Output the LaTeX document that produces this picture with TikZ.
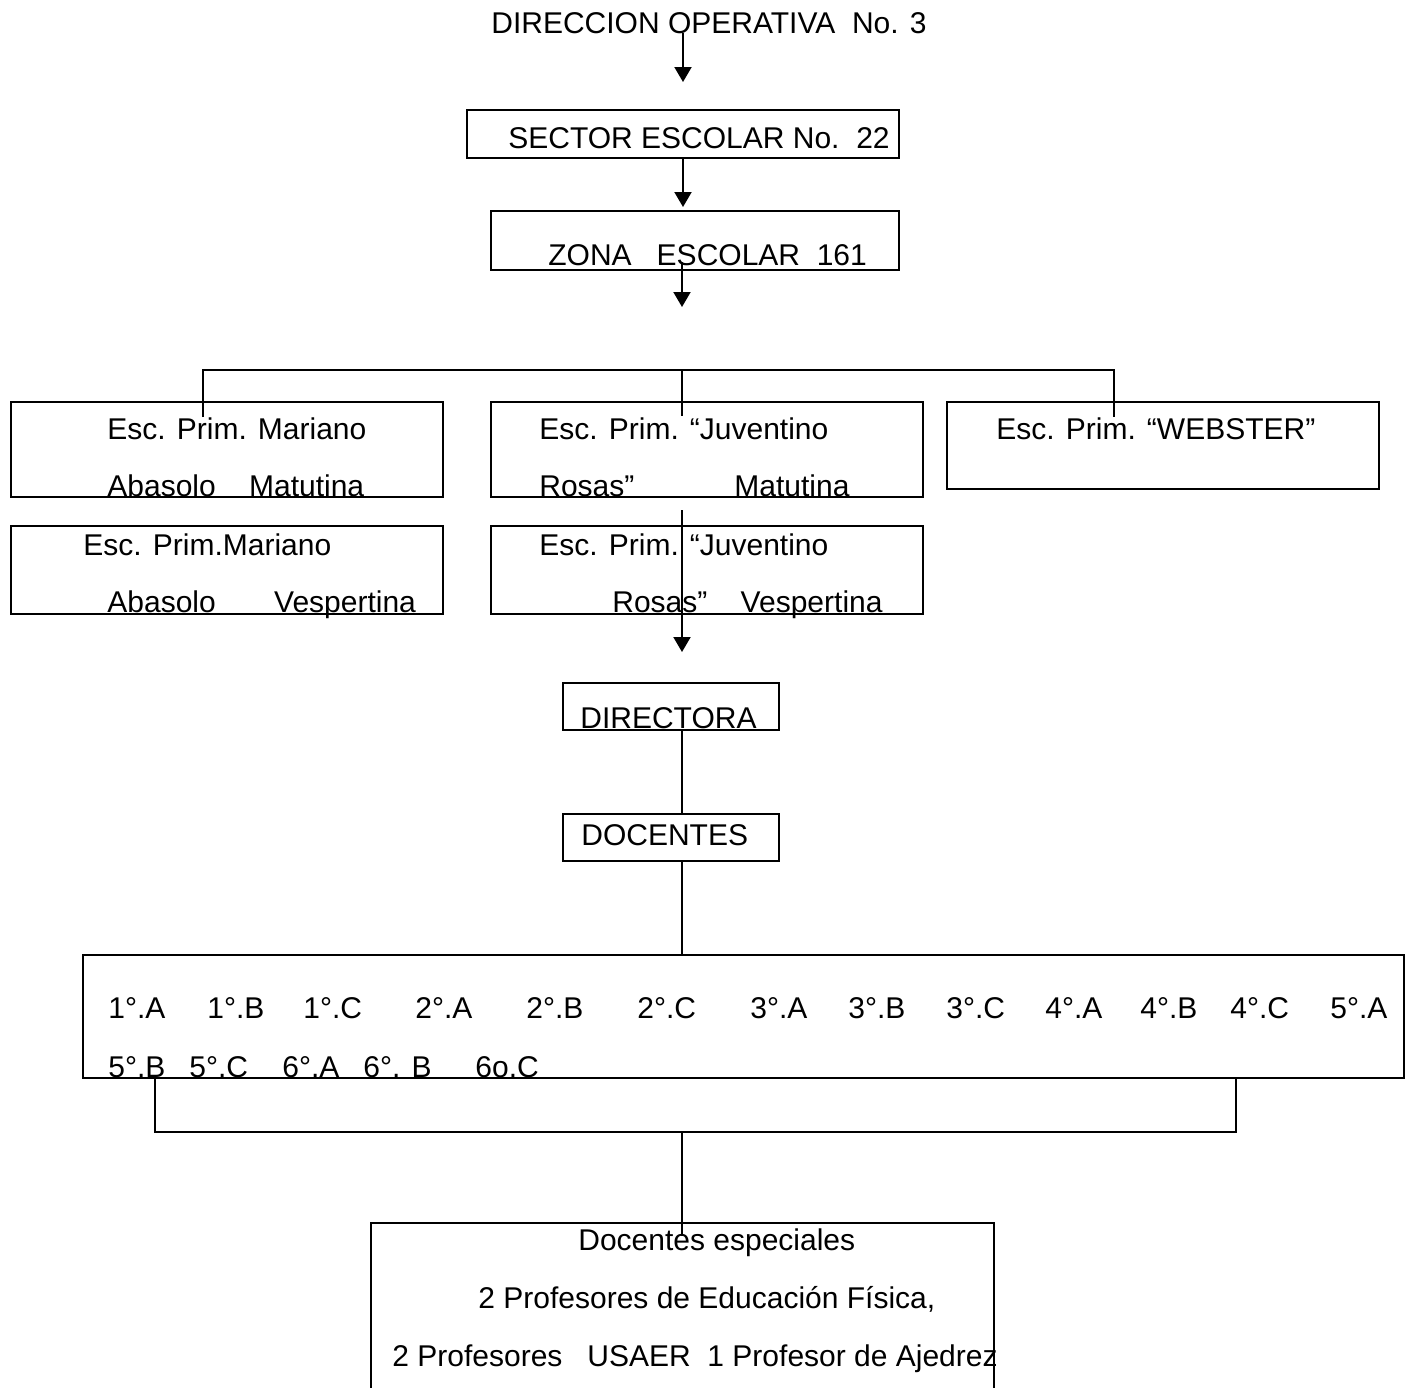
\documentclass[tikz,border=0pt]{standalone}
\usepackage{fontspec}
\setmainfont{Liberation Sans}
\usetikzlibrary{arrows.meta}
\tikzset{
  caja/.style={draw, line width=1pt, anchor=north west, inner sep=0pt},
  texto/.style={anchor=base west, inner sep=0pt},
  linea/.style={line width=1pt},
  flecha/.style={line width=1pt, -{Triangle[length=7.5pt,width=8.5pt]}}
}
\begin{document}
\begin{tikzpicture}[x=0.5pt,y=-0.5pt,font=\fontsize{15pt}{18pt}\selectfont]
            \clip (0,0) rectangle (1408,1387);
            \fill[white] (0,0) rectangle (1408,1387);
            \node[texto] at (491,33) (direccion) {DIRECCION OPERATIVA~~No. 3};
            \node[caja, minimum width=216pt, minimum height=24pt] at (466,109) (sector) {};
            \node[texto] at (508,148) (tsector) {SECTOR ESCOLAR No.~~22};
            \node[caja, minimum width=204pt, minimum height=29.5pt] at (490,210) (zona) {};
            \node[texto] at (548,265) (tzona) {ZONA~~~ESCOLAR~~161};
            \node[caja, minimum width=216pt, minimum height=47.5pt] at (10,401) (matm) {};
            \node[texto] at (107,439) (matm1) {Esc. Prim. Mariano};
            \node[texto] at (107,496) (matm2) {Abasolo~~~~Matutina};
            \node[caja, minimum width=216pt, minimum height=47.5pt] at (490,401) (matj) {};
            \node[texto] at (539,439) (matj1) {Esc. Prim. “Juventino};
            \node[texto] at (539,496) (matj2) {Rosas”~~~~~~~~~~~~Matutina};
            \node[caja, minimum width=216pt, minimum height=43.5pt] at (946,401) (web) {};
            \node[texto] at (996,439) (web1) {Esc. Prim. “WEBSTER”};
            \node[caja, minimum width=216pt, minimum height=44pt] at (10,525) (vesm) {};
            \node[texto] at (83,555) (vesm1) {Esc. Prim.Mariano};
            \node[texto] at (107,612) (vesm2) {Abasolo~~~~~~~Vespertina};
            \node[caja, minimum width=216pt, minimum height=44pt] at (490,525) (vesj) {};
            \node[texto] at (539,555) (vesj1) {Esc. Prim. “Juventino};
            \node[texto] at (612,612) (vesj2) {Rosas”~~~~Vespertina};
            \node[caja, minimum width=108pt, minimum height=23.5pt] at (562,682) (directora) {};
            \node[texto] at (580,728) (tdirectora) {DIRECTORA};
            \node[caja, minimum width=108pt, minimum height=23.5pt] at (562,813) (docentes) {};
            \node[texto] at (581,845) (tdocentes) {DOCENTES};
            \node[caja, minimum width=660.5pt, minimum height=61.5pt] at (82,954) (grupos) {};
            \foreach \x/\g in {108/1°.A, 207/1°.B, 303/1°.C, 415/2°.A, 526/2°.B, 637/2°.C, 750/3°.A,
                               848/3°.B, 946/3°.C, 1045/4°.A, 1140/4°.B, 1230/4°.C, 1330/5°.A}
              \node[texto] at (\x,1018) (g\x) {\g};
            \foreach \x/\g in {108/5°.B, 189/5°.C, 282/6°.A, 363/6°. B, 475/6o.C}
              \node[texto] at (\x,1077) (h\x) {\g};
            \node[caja, minimum width=311.5pt, minimum height=100pt] at (370,1222) (especiales) {};
            \node[texto] at (578,1250) (esp1) {Docentes especiales};
            \node[texto] at (478,1308) (esp2) {2 Profesores de Educación Física,};
            \node[texto] at (392,1366) (esp3) {2 Profesores~~~USAER~~1 Profesor de Ajedrez};
            \coordinate (z1) at (682,262);
            \coordinate (z2) at (682,307);
            \coordinate (b1) at (203,417);
            \coordinate (b2) at (203,370);
            \coordinate (b3) at (1114,370);
            \coordinate (b4) at (1114,417);
            \coordinate (b5) at (682,370);
            \coordinate (b6) at (682,416);
            \coordinate (r1) at (682,510);
            \coordinate (r2) at (682,652);
            \coordinate (k1) at (155,1078);
            \coordinate (k2) at (155,1132);
            \coordinate (k3) at (1236,1132);
            \coordinate (k4) at (1236,1078);
            \coordinate (k5) at (682,1236);
            \draw[flecha, shorten >=13.5pt] (direccion.base -| sector.north) to (sector.north);
            \draw[flecha, shorten >=1.5pt] (sector.south) to (sector.south |- zona.north);
            \draw[flecha] (z1) to (z2);
            \draw[linea] (b1) -- (b2) -- (b3) -- (b4);
            \draw[linea] (b5) to (b6);
            \draw[flecha] (r1) to (r2);
            \draw[linea] (directora.south -| r1) to (docentes.north -| r1);
            \draw[linea] (docentes.south -| r1) to (grupos.north -| r1);
            \draw[linea] (k1) -- (k2) -- (k3) -- (k4);
            \draw[linea] (k2 -| k5) to (k5);
        \end{tikzpicture}
\end{document}
